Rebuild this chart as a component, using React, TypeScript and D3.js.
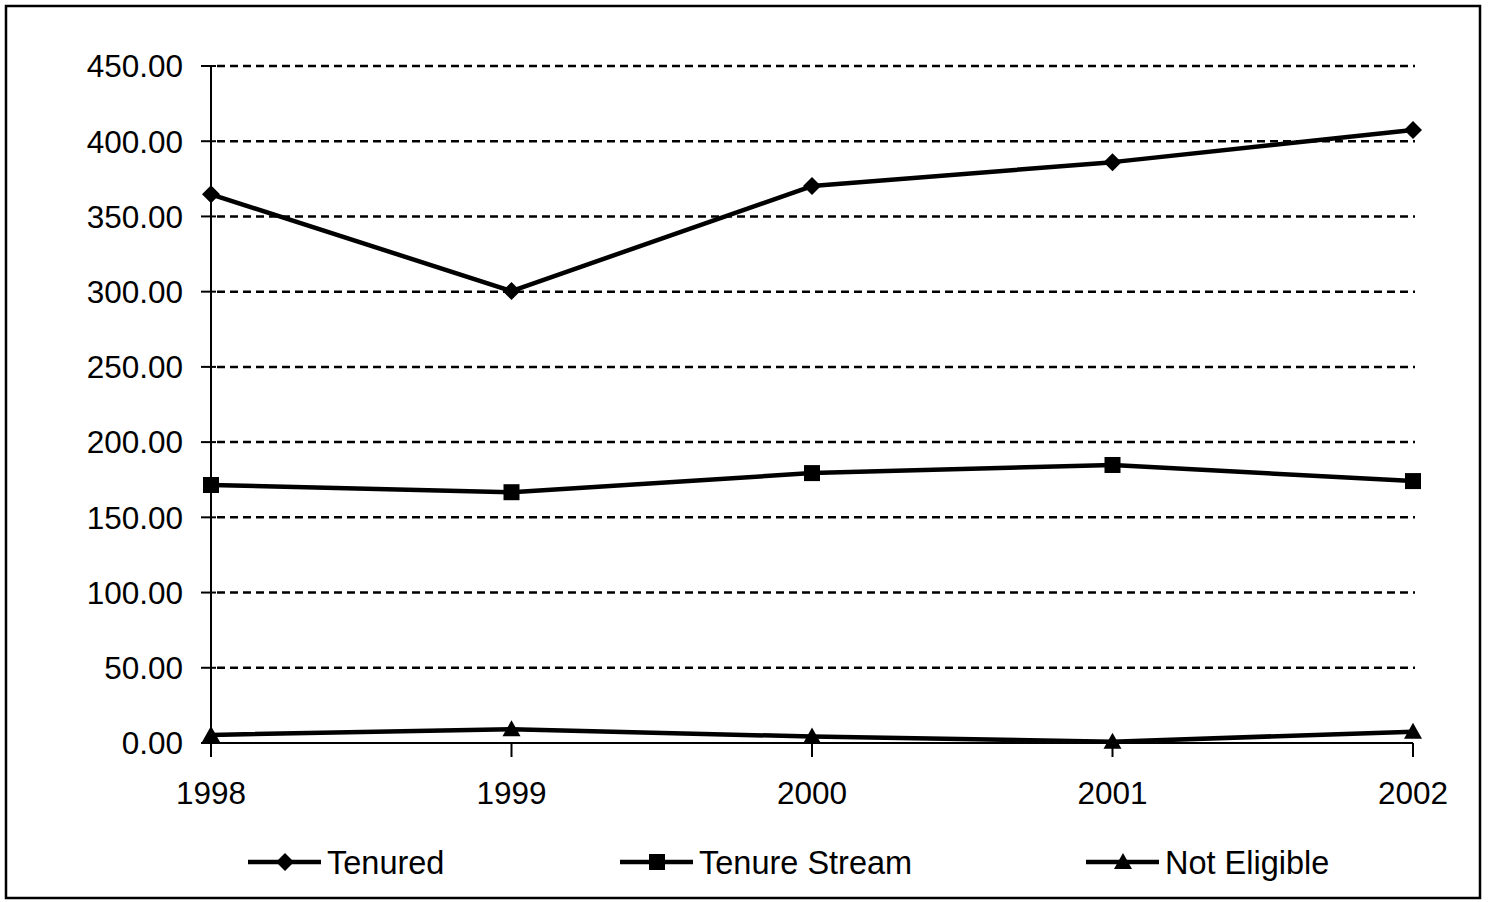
import React from "react";
import * as d3 from "d3";

const years = ["1998", "1999", "2000", "2001", "2002"];
const tenured = [364.7, 300.4, 370.2, 386.1, 407.5];
const tenureStream = [171.5, 166.7, 179.4, 184.8, 174.1];
const notEligible = [5.4, 9.1, 4.3, 0.9, 7.5];
const yTicks = [0, 50, 100, 150, 200, 250, 300, 350, 400, 450];
const seriesNames = ["Tenured", "Tenure Stream", "Not Eligible"];

const W = 1488;
const H = 902;
const font = "'Liberation Sans', Arial, sans-serif";

function Marker({ kind, x, y }: { kind: string; x: number; y: number }) {
  if (kind === "diamond") {
    const s = 9;
    return <path d={`M${x},${y - s}L${x + s},${y}L${x},${y + s}L${x - s},${y}Z`} fill="#000" />;
  }
  if (kind === "square") {
    const s = 8;
    return <rect x={x - s} y={y - s} width={2 * s} height={2 * s} fill="#000" />;
  }
  const s = 9;
  return <path d={`M${x},${y - s}L${x + s},${y + 7}L${x - s},${y + 7}Z`} fill="#000" />;
}

export default function App() {
  const x = d3.scalePoint<string>().domain(years).range([211, 1413]);
  const y = d3.scaleLinear().domain([0, 450]).range([743, 66]);
  const line = d3
    .line<number>()
    .x((_, i) => x(years[i]) as number)
    .y((d) => y(d));

  const series = [
    { name: seriesNames[0], values: tenured, marker: "diamond" },
    { name: seriesNames[1], values: tenureStream, marker: "square" },
    { name: seriesNames[2], values: notEligible, marker: "triangle" },
  ];

  const legendX = [248, 620, 1086];

  return (
    <svg
      width={W}
      height={H}
      style={{ position: "absolute", left: 0, top: 0, background: "#fff" }}
    >
      <rect x={6} y={6} width={1474} height={892} fill="#fff" stroke="#000" strokeWidth={2.5} />
      {/* gridlines */}
      {yTicks.filter((t) => t > 0).map((t) => (
        <line
          key={"g" + t}
          x1={217}
          x2={1415}
          y1={y(t)}
          y2={y(t)}
          stroke="#000"
          strokeWidth={2.5}
          strokeDasharray="8,5"
        />
      ))}
      {/* y axis */}
      <line x1={211} x2={211} y1={y(450)} y2={y(0)} stroke="#000" strokeWidth={2} />
      {yTicks.map((t) => (
        <g key={"t" + t}>
          <line x1={201} x2={216} y1={y(t)} y2={y(t)} stroke="#000" strokeWidth={2} />
          <text
            x={183}
            y={y(t)}
            dy="0.36em"
            textAnchor="end"
            fontFamily={font}
            fontSize={31.5}
            fill="#000"
          >
            {t.toFixed(2)}
          </text>
        </g>
      ))}
      {/* x axis */}
      <line x1={211} x2={1413} y1={y(0)} y2={y(0)} stroke="#000" strokeWidth={2} />
      {years.map((yr) => (
        <g key={yr}>
          <line x1={x(yr)} x2={x(yr)} y1={y(0)} y2={y(0) + 14} stroke="#000" strokeWidth={2} />
          <text
            x={x(yr)}
            y={804}
            textAnchor="middle"
            fontFamily={font}
            fontSize={31.5}
            fill="#000"
          >
            {yr}
          </text>
        </g>
      ))}
      {/* series */}
      {series.map((s) => (
        <g key={s.name}>
          <path d={line(s.values) || ""} fill="none" stroke="#000" strokeWidth={4.5} strokeLinejoin="round" />
          {s.values.map((v, i) => (
            <Marker key={i} kind={s.marker} x={x(years[i]) as number} y={y(v)} />
          ))}
        </g>
      ))}
      {/* legend */}
      {series.map((s, i) => (
        <g key={"l" + s.name}>
          <line x1={legendX[i]} x2={legendX[i] + 73} y1={862} y2={862} stroke="#000" strokeWidth={4.5} />
          <Marker kind={s.marker} x={legendX[i] + 37} y={862} />
          <text
            x={legendX[i] + 79}
            y={862}
            dy="0.36em"
            fontFamily={font}
            fontSize={32.5}
            fill="#000"
          >
            {s.name}
          </text>
        </g>
      ))}
    </svg>
  );
}
